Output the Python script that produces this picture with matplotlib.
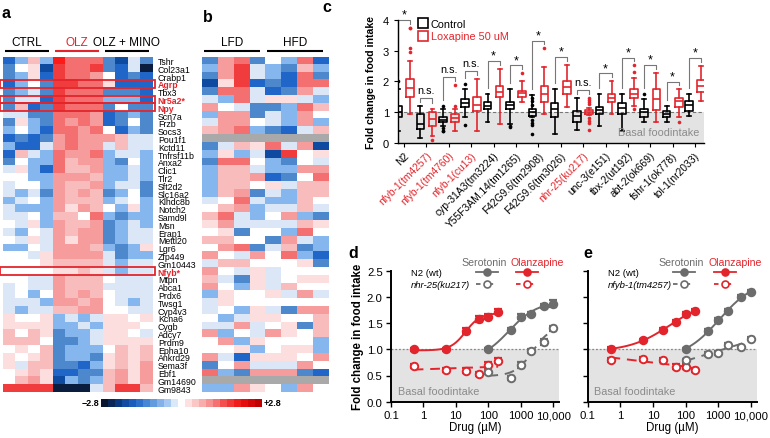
import numpy as np
import matplotlib
matplotlib.use("Agg")
import matplotlib.pyplot as plt
from matplotlib.colors import ListedColormap, LinearSegmentedColormap
from matplotlib.patches import Rectangle
from matplotlib.lines import Line2D

plt.rcParams["font.family"] = ["Liberation Sans", "DejaVu Sans"]
plt.rcParams["axes.linewidth"] = 1.0

RED = "#e2252c"
GRAY = "#6c6c6c"
SHADE = "#e3e3e3"

# ---------------------------------------------------------------- heatmaps
genes = ["Tshr", "Col23a1", "Crabp1", "Agrp", "Tbx3", "Nr5a2*", "Npy", "Scn7a",
         "Frzb", "Socs3", "Pou1f1", "Kctd11", "Tnfrsf11b", "Anxa2", "Clic1",
         "Tlr2", "Sft2d2", "Slc16a2", "Klhdc8b", "Notch2", "Samd9l", "Msn",
         "Erap1", "Mettl20", "Lgr6", "Zfp449", "Gm10443", "Nfyb*", "Mtpn",
         "Abca1", "Prdx6", "Twsg1", "Cyp4v3", "Kcna6", "Cygb", "Adcy7", "Prdm9",
         "Epha10", "Ankrd29", "Sema3f", "Ebf1", "Gm14690", "Gm9843"]
highlight = ["Agrp", "Nr5a2*", "Npy", "Nfyb*"]
groups_a = ["CTRL", "OLZ", "OLZ + MINO"]
groups_b = ["LFD", "HFD"]

# z-score levels: a = -2.8 (navy) ... g = 0 (white) ... m = +2.8 (red); '#' = n/a
LEVELS = "abcdefghijklm"
LEVEL_COLORS = ["#0b1d3f", "#0d4aa0", "#1f66c8", "#4d88cc", "#86b6ee", "#dbe7f7",
                "#ffffff", "#fcdede", "#f9bcbc", "#f79c9c", "#f46f6f", "#f03c3c",
                "#ff1a1a"]

heat_a = ["ceiemkkkdbfd", "dghblkkldcfa", "dehclkkjgcdc", "cegdllkkhccc",
          "defdlkkkdddc", "dffclkkkeeec", "dicdlkkkdgdd", "ffddkkkjcded",
          "dhedkjkjcdgd", "egeckkjkgced", "cdcdjkjjjiff", "eccfjkjjfiff",
          "cifekjjkeffe", "dgeekijjedge", "fheckiijeefe", "ggeejjjieefe",
          "fggejiijeffd", "fefdjijidegd", "efgejiiiefge", "feeejhjigehe",
          "ffgeiigkedee", "gfhejiijdefe", "fegfjijjdeff", "gfhfjhjjdeff",
          "eegfjjjiedeh", "ggfhjjjjfdee", "ggghiiiifeff", "gggghhihfeff",
          "ggffjiiigfff", "fgffjiiiffff", "fgegjijigfff", "fffejjijgfef",
          "feffiijjggff", "hgghefefhhgh", "hhhheefehhhg", "igihdeefhhgf",
          "iiigddefhhhh", "ghgideeegihi", "hghideedhihi", "hfiiddcehihj",
          "ghihccddijhj", "gijhbedeijhj", "llllaaafilli"]

heat_b = ["djkdgekc", "ejlfedie", "djlfeckd", "bhlcdckk", "dkkfcdjf", "fekfhhfe",
          "jgfddeki", "ejjdfejg", "fjjgfeje", "ijkedcfi", "########", "dfihkfjb",
          "ehefblgh", "dkkgedgf", "eiifeejj", "eiijcdgk", "eiighfii", "eijdfeii",
          "fgkfeeig", "gijeffif", "ikfegjed", "hjffffih", "ghdggekg", "iiggdjfe",
          "gjkdfide", "jgfjgkec", "fiiggghd", "jgfhfggg", "ifdhfghh", "jgehfigg",
          "ehgghfjf", "fhgggggg", "fgehfdjj", "gefhhggi", "ffjfghdi", "jegfjhgi",
          "gjehggge", "ggheghhe", "jfchhhgj", "dgjfffjg", "kedjjjdc", "########",
          "eejhgejg"]

# ---------------------------------------------------------------- panel c
strains = ["N2", "nfyb-1(tm4257)", "nfyb-1(tm4760)", "nfyb-1(cu13)",
           "cyp-31A3(tm3224)", "Y55F3AM.14(tm1265)", "F42G9.6(tm2908)",
           "F42G9.6(tm3026)", "nhr-25(ku217)", "unc-3(e151)", "tbx-2(ut192)",
           "abt-2(ok669)", "fshr-1(ok778)", "tol-1(nr2033)"]
red_strains = ["nfyb-1(tm4257)", "nfyb-1(tm4760)", "nfyb-1(cu13)", "nhr-25(ku217)"]
signif = ["*", "n.s.", "n.s.", "n.s.", "*", "*", "*", "*", "n.s.", "*", "*", "*", "*", "*"]

ctrl_whislo = [0.40, 0.15, 0.56, 0.83, 0.67, 0.62, 0.83, 0.29, 0.42, 0.54, 0.40, 0.69, 0.69, 0.86]
ctrl_q1 = [0.83, 0.45, 0.69, 1.16, 1.10, 1.10, 0.87, 0.83, 0.69, 0.94, 0.94, 0.83, 0.83, 1.04]
ctrl_med = [1.00, 0.62, 0.76, 1.30, 1.21, 1.23, 1.00, 1.10, 0.88, 1.08, 1.15, 0.99, 0.94, 1.23]
ctrl_q3 = [1.21, 0.94, 0.83, 1.43, 1.32, 1.32, 1.10, 1.31, 1.04, 1.18, 1.31, 1.10, 1.04, 1.37]
ctrl_whishi = [1.75, 1.20, 1.10, 1.75, 1.59, 1.75, 1.56, 1.74, 1.47, 1.60, 1.60, 1.44, 1.20, 1.60]
ctrl_fliers = [[2.0], [], [1.19, 0.48, 0.40, 0.40], [1.91, 0.58], [], [0.56, 0.53],
               [1.45, 1.35, 1.22, 0.74, 0.66, 0.58, 0.28], [], [], [], [], [1.60], [], []]

lox_whislo = [0.94, 0.24, 0.40, 0.40, 0.62, 1.32, 0.94, 1.18, 0.90, 0.94, 1.20, 0.67, 0.83, 1.37]
lox_q1 = [1.48, 0.56, 0.67, 1.05, 1.48, 1.48, 1.32, 1.58, 0.94, 1.33, 1.47, 1.08, 1.18, 1.66]
lox_med = [1.80, 0.78, 0.81, 1.23, 1.64, 1.61, 1.59, 1.83, 1.00, 1.45, 1.60, 1.42, 1.37, 1.85]
lox_q3 = [2.08, 1.00, 0.94, 1.48, 1.84, 1.70, 1.86, 2.01, 1.06, 1.60, 1.74, 1.74, 1.45, 2.04]
lox_whishi = [2.67, 1.10, 1.10, 2.07, 2.40, 2.02, 2.45, 2.53, 1.12, 2.01, 2.12, 2.28, 1.74, 2.50]
lox_fliers = [[3.73, 3.73, 3.07, 2.94], [0.10], [1.88, 1.19], [], [], [2.27], [3.07], [],
              [1.47, 1.39, 1.32, 1.25, 0.80, 0.72, 0.65, 0.42], [], [2.52, 2.30, 1.10],
              [], [0.67], []]

# ---------------------------------------------------------------- panels d, e
conc_olz = [0.5, 5, 20, 50, 100, 200]
conc_5ht = [100, 500, 1000, 2000, 5000, 10000]

d_wt_olz = [1.00, 1.00, 1.35, 1.58, 1.62, 1.72]
d_wt_olz_err = [0.03, 0.03, 0.05, 0.05, 0.05, 0.05]
d_mut_olz = [0.68, 0.60, 0.59, 0.53, 0.70, 0.78]
d_mut_olz_err = [0.04, 0.04, 0.05, 0.04, 0.05, 0.05]
d_wt_5ht = [1.00, 1.37, 1.62, 1.68, 1.82, 1.87]
d_wt_5ht_err = [0.02, 0.04, 0.05, 0.04, 0.04, 0.07]
d_mut_5ht = [0.57, 0.45, 0.70, 0.97, 1.14, 1.40]
d_mut_5ht_err = [0.04, 0.04, 0.05, 0.04, 0.05, 0.05]

e_wt_olz = [1.01, 1.17, 1.37, 1.52, 1.67, 1.73]
e_wt_olz_err = [0.03, 0.03, 0.04, 0.04, 0.04, 0.04]
e_mut_olz = [0.79, 0.82, 0.80, 0.67, 0.67, 0.60]
e_mut_olz_err = [0.04, 0.04, 0.04, 0.04, 0.04, 0.04]
e_wt_5ht = [1.01, 1.35, 1.56, 1.73, 2.00, 2.10]
e_wt_5ht_err = [0.02, 0.03, 0.03, 0.03, 0.03, 0.03]
e_mut_5ht = [0.79, 0.91, 0.93, 1.09, 1.04, 1.20]
e_mut_5ht_err = [0.03, 0.03, 0.03, 0.03, 0.03, 0.03]


def px(x0, y0, x1, y1):
    """pixel box of the 770x439 canvas -> figure fraction rect"""
    return [x0 / 770, 1 - y1 / 439, (x1 - x0) / 770, (y1 - y0) / 439]


def decode(rows):
    arr = np.array([[LEVELS.index(c) if c != "#" else -1 for c in r] for r in rows], float)
    return np.ma.masked_less(arr, 0)


def fit_logistic(x, y):
    lx = np.log10(x)
    best = (np.inf, None)
    for lec in np.linspace(lx.min() - 1.5, lx.max() + 1.5, 151):
        for hill in np.linspace(0.3, 3.0, 28):
            s = 1.0 / (1.0 + 10 ** ((lec - lx) * hill))
            A = np.column_stack([1 - s, s])
            coef = np.linalg.lstsq(A, y, rcond=None)[0]
            sse = float(((A @ coef - y) ** 2).sum())
            if sse < best[0]:
                best = (sse, (coef[0], coef[1], lec, hill))
    return best[1]


def logistic(x, p):
    bottom, top, lec, hill = p
    return bottom + (top - bottom) / (1.0 + 10 ** ((lec - np.log10(x)) * hill))


fig = plt.figure(figsize=(7.7, 4.39), dpi=100)
cmap = ListedColormap(LEVEL_COLORS)
cmap.set_bad("#a9a9a9")


def heatmap(ax, rows, groups):
    data = decode(rows)
    nrow, ncol = data.shape
    ax.imshow(data, cmap=cmap, vmin=-0.5, vmax=12.5, aspect="auto",
              interpolation="nearest")
    ax.set_xticks([])
    ax.set_yticks([])
    for s in ax.spines.values():
        s.set_visible(False)
    per = ncol // len(groups)
    for k, g in enumerate(groups):
        c = RED if g == "OLZ" else "black"
        x0 = k * per - 0.36
        x1 = (k + 1) * per - 0.84
        ax.plot([x0, x1], [-1.27, -1.27], color=c, lw=1.5, clip_on=False,
                solid_capstyle="butt")
        ax.text((x0 + x1) / 2, -1.6, g, color=c, ha="center", va="bottom",
                fontsize=8.5)
    ax.set_xlim(-0.5, ncol - 0.5)
    ax.set_ylim(nrow - 0.5, -0.5)


ax_a = fig.add_axes(px(3.3, 57.7, 153, 393))
heatmap(ax_a, heat_a, groups_a)
ax_a.set_yticks(range(len(genes)))
ax_a.set_yticklabels(genes, fontsize=6.3)
ax_a.tick_params(left=False, right=False, labelleft=False, labelright=True,
                 length=0, pad=3.5)
for lab in ax_a.get_yticklabels():
    if lab.get_text() in highlight:
        lab.set_color(RED)
        lab.set_fontweight("bold")
for g in highlight:
    r = genes.index(g)
    ax_a.add_patch(Rectangle((-0.76, r - 0.5), 12.42, 1.0, fill=False,
                             ec=RED, lw=1.3, clip_on=False, zorder=5))
ax_a.set_xlim(-0.5, 11.5)
ax_a.set_ylim(len(genes) - 0.5, -0.5)

ax_b = fig.add_axes(px(201.7, 57.7, 328.3, 393))
heatmap(ax_b, heat_b, groups_b)

# colour bar (stepped, with gap at zero)
blue_cm = LinearSegmentedColormap.from_list(
    "b", ["#0a1530", "#0c3f8c", "#1f66c8", "#5a96dc", "#a5c9f2"])
red_cm = LinearSegmentedColormap.from_list(
    "r", ["#fde0e0", "#f8a0a0", "#f45050", "#ee1010", "#c00000"])
cb1 = fig.add_axes(px(101, 400, 177, 408))
blue_steps = [blue_cm(v) for v in np.linspace(0, 1, 10)] + [(0.86, 0.91, 0.97, 1)]
cb1.imshow([blue_steps], aspect="auto", interpolation="nearest")
cb2 = fig.add_axes(px(185, 400, 262, 408))
cb2.imshow([[red_cm(v) for v in np.linspace(0, 1, 11)]], aspect="auto",
           interpolation="nearest")
for cb in (cb1, cb2):
    cb.axis("off")
fig.text(99 / 770, 1 - 404 / 439, "\u22122.8", ha="right", va="center",
         fontsize=6.5, fontweight="bold")
fig.text(264 / 770, 1 - 404 / 439, "+2.8", ha="left", va="center",
         fontsize=6.5, fontweight="bold")

# ---------------------------------------------------------------- panel c
ax_c = fig.add_axes(px(398, 20.7, 704, 144))
pos = np.arange(len(strains))
off = 0.27
ax_c.axhspan(0, 1, color=SHADE, zorder=0, lw=0)
ax_c.axhline(1, color="#777777", ls=(0, (3, 2)), lw=0.8, zorder=1)


def make_stats(lo, q1, med, q3, hi, fl):
    return [dict(whislo=a, q1=b, med=c, q3=d, whishi=e, fliers=f)
            for a, b, c, d, e, f in zip(lo, q1, med, q3, hi, fl)]


for stats, dx, col in ((make_stats(ctrl_whislo, ctrl_q1, ctrl_med, ctrl_q3,
                                   ctrl_whishi, ctrl_fliers), -off, "black"),
                       (make_stats(lox_whislo, lox_q1, lox_med, lox_q3,
                                   lox_whishi, lox_fliers), off, RED)):
    lp = dict(color=col, lw=1.2)
    ax_c.bxp(stats, positions=pos + dx, widths=0.34, showfliers=True,
             boxprops=lp, medianprops=lp, whiskerprops=lp, capprops=lp,
             flierprops=dict(marker="o", mfc=col, mec="none", ms=2.6))

for i in range(len(strains)):
    cmax = max([ctrl_whishi[i]] + ctrl_fliers[i])
    lmax = max([lox_whishi[i]] + lox_fliers[i])
    h = max(cmax, lmax) + 0.25
    yl = min(cmax + 0.2, h - 0.12)
    yr = min(lmax + 0.2, h - 0.12)
    ax_c.plot([pos[i] - off, pos[i] - off, pos[i] + off, pos[i] + off],
              [yl, h, h, yr], color="#777777", lw=0.8, clip_on=False)
    if signif[i] == "*":
        ax_c.text(pos[i], h - 0.02, "*", ha="center", va="bottom", fontsize=9)
    else:
        ax_c.text(pos[i], h + 0.1, signif[i], ha="center", va="bottom", fontsize=7.8)

ax_c.set_xlim(-0.27, len(strains) - 0.6)
ax_c.set_ylim(0, 4)
ax_c.set_yticks([0, 1, 2, 3, 4])
ax_c.set_xticks(pos)
ax_c.set_xticklabels(strains, rotation=45, ha="right", rotation_mode="anchor",
                     fontsize=7.4)
for lab in ax_c.get_xticklabels():
    if lab.get_text() in red_strains:
        lab.set_color(RED)
ax_c.tick_params(axis="y", labelsize=8, length=3)
ax_c.tick_params(axis="x", length=3, pad=2)
ax_c.set_ylabel("Fold change in food intake", fontsize=7.6, fontweight="bold",
                labelpad=5)
for s in ("top", "right"):
    ax_c.spines[s].set_visible(False)
ax_c.text(0.985, 0.05, "Basal foodintake", transform=ax_c.transAxes,
          ha="right", va="bottom", color="#8a8a8a", fontsize=7.8)
handles = [Line2D([], [], marker="s", ls="none", mfc="white", mec="black",
                  mew=1.2, ms=7),
           Line2D([], [], marker="s", ls="none", mfc="white", mec=RED,
                  mew=1.2, ms=7)]
leg = ax_c.legend(handles, ["Control", "Loxapine 50 uM"], loc="upper left",
                  bbox_to_anchor=(0.04, 1.07), frameon=False, fontsize=7.8,
                  handletextpad=0.2, labelspacing=0.25, handlelength=1.0,
                  borderpad=0.2)
leg.get_texts()[1].set_color(RED)


# ---------------------------------------------------------------- panels d, e
def dose_panel(ax, mut, wt_olz, wt_olz_err, mut_olz, mut_olz_err,
               wt_5ht, wt_5ht_err, mut_5ht, mut_5ht_err, curved_mut_5ht, ylabels):
    ax.axhspan(0, 1, color=SHADE, zorder=0, lw=0)
    ax.axhline(1, color="#888888", ls=(0, (1.5, 1.5)), lw=0.9, zorder=1)
    xo = np.array(conc_olz, float)
    xs = np.array(conc_5ht, float)
    series = [
        (xo, wt_olz, wt_olz_err, RED, True, "fit"),
        (xo, mut_olz, mut_olz_err, RED, False, "line"),
        (xs, wt_5ht, wt_5ht_err, GRAY, True, "fit"),
        (xs, mut_5ht, mut_5ht_err, GRAY, False, "fit" if curved_mut_5ht else "line"),
    ]
    for x, y, err, col, filled, kind in series:
        y = np.array(y, float)
        grid = np.logspace(np.log10(x.min()), np.log10(x.max()), 200)
        if kind == "fit":
            yy = logistic(grid, fit_logistic(x, y))
        else:
            k = np.polyfit(np.log10(x), y, 1)
            yy = np.polyval(k, np.log10(grid))
        ax.plot(grid, yy, color=col, lw=1.4,
                ls="-" if filled else (0, (5, 3.5)), zorder=2)
        ax.errorbar(x, y, yerr=err, fmt="none", ecolor=col, elinewidth=1.6,
                    capsize=3.0, capthick=1.6, zorder=3)
        ax.plot(x, y, ls="none", marker="o", ms=5.4, mew=1.4, mec=col,
                mfc=col if filled else "white", zorder=4)
    ax.set_xscale("log")
    ax.set_xlim(0.1, 15000)
    ax.set_ylim(0, 2.5)
    ax.set_xticks([0.1, 1, 10, 100, 1000, 10000])
    ax.set_xticklabels(["0.1", "1", "10", "100", "1000", "10,000"])
    ax.set_yticks([0, 0.5, 1.0, 1.5, 2.0, 2.5])
    if ylabels:
        ax.set_yticklabels(["0.0", "0.5", "1.0", "1.5", "2.0", "2.5"])
        ax.set_ylabel("Fold change in food intake", fontsize=8.3,
                      fontweight="bold", labelpad=2)
    else:
        ax.set_yticklabels([])
    ax.set_xlabel("Drug (\u00b5M)", fontsize=8.3, labelpad=0.5)
    ax.tick_params(labelsize=8.2, length=3.5, width=1.0, pad=2.5)
    ax.tick_params(which="minor", length=2, width=0.7)
    for s in ("top", "right"):
        ax.spines[s].set_visible(False)
    for s in ("left", "bottom"):
        ax.spines[s].set_linewidth(1.4)
    ax.text(0.04, 0.04, "Basal foodintake", transform=ax.transAxes,
            color="#8a8a8a", fontsize=7.8, ha="left", va="bottom")
    # table legend
    tr = ax.transAxes
    ax.text(0.12, 0.99, "N2 (wt)", transform=tr, fontsize=6.8, va="center")
    ax.text(0.12, 0.895, mut, transform=tr, fontsize=6.8, va="center",
            style="italic")
    ax.text(0.555, 1.07, "Serotonin", transform=tr, fontsize=7.6, color=GRAY,
            ha="center", va="center")
    ax.text(0.87, 1.07, "Olanzapine", transform=tr, fontsize=7.6, color=RED,
            ha="center", va="center")
    for xc, col in ((0.57, GRAY), (0.81, RED)):
        for yc, filled in ((0.99, True), (0.895, False)):
            ax.plot([xc - 0.065, xc + 0.065], [yc, yc], transform=tr, color=col,
                    lw=1.3, ls="-" if filled else (0, (2.5, 4.5)), clip_on=False)
            ax.plot([xc], [yc], transform=tr, marker="o", ms=5, mew=1.2,
                    mec=col, mfc=col if filled else "white", clip_on=False)


ax_d = fig.add_axes(px(391, 271.7, 559, 402.7))
dose_panel(ax_d, "nhr-25(ku217)", d_wt_olz, d_wt_olz_err, d_mut_olz, d_mut_olz_err,
           d_wt_5ht, d_wt_5ht_err, d_mut_5ht, d_mut_5ht_err, True, True)
ax_e = fig.add_axes(px(587.7, 271.7, 756.7, 402.7))
dose_panel(ax_e, "nfyb-1(tm4257)", e_wt_olz, e_wt_olz_err, e_mut_olz, e_mut_olz_err,
           e_wt_5ht, e_wt_5ht_err, e_mut_5ht, e_mut_5ht_err, False, False)

# panel letters
for letter, x, y in (("a", 2, 14), ("b", 203, 17), ("c", 322, 8), ("d", 348, 253),
                     ("e", 583, 253)):
    fig.text(x / 770, 1 - y / 439, letter, fontsize=11.5, fontweight="bold",
             ha="left", va="center")

fig.savefig("out.png", dpi=100)
